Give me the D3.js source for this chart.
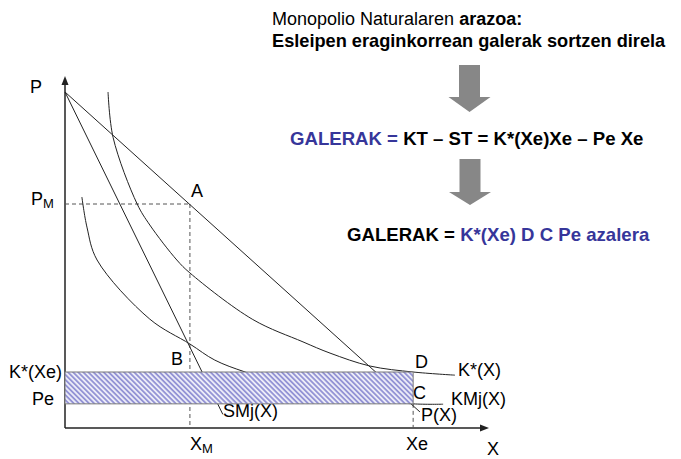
<!DOCTYPE html>
<html>
<head>
<meta charset="utf-8">
<style>
body { margin: 0; background: #fff; }
svg { font-family: "Liberation Sans", Arial, sans-serif; }
.curve { fill: none; stroke: #222; stroke-width: 1; }
.guide { fill: none; stroke: #555; stroke-width: 1; stroke-dasharray: 4,3; }
.axis { stroke: #222; stroke-width: 1.5; }
.lbl { font-size: 18px; fill: #000; }
</style>
</head>
<body>
<svg width="681" height="459"></svg>
<script src="https://d3js.org/d3.v7.min.js"></script>
<script>

// quantity X and price P, both on a 0..100 scale
var demand = [[0, 96], [84.1, 4.6]];            // P(X)
var marginalRevenue = [[0, 96], [37.4, 3.9]];   // SMj(X)
var averageCost = [[10.2, 96], [11.4, 83], [17.1, 64], [20.1, 58], [26.5, 48],
                   [29.6, 44.3], [44.5, 31], [56.4, 24.6], [62.8, 21.4],
                   [72.3, 17.7], [82.5, 16], [92.4, 15.1]];   // K*(X)
var marginalCost = [[4.0, 66], [5.2, 57.4], [7.6, 48], [20.1, 31.1], [29.6, 24],
                    [35.5, 19.4], [42.7, 16], [55.7, 11.4], [69.9, 8.6],
                    [82.5, 6.9], [89.6, 6.8]];               // KMj(X)

var XM = 29.6, Xe = 82.5;
var PM = 64, KXe = 16, Pe = 6.9;

var svg = d3.select("svg");

var x = d3.scaleLinear().domain([0, 100]).range([65, 487]);
var y = d3.scaleLinear().domain([0, 100]).range([428, 78]);

var defs = svg.append("defs");
var pat = defs.append("pattern")
    .attr("id", "hatch")
    .attr("patternUnits", "userSpaceOnUse")
    .attr("width", 3.6).attr("height", 3.6)
    .attr("patternTransform", "rotate(-45)");
pat.append("rect").attr("width", 3.6).attr("height", 3.6).attr("fill", "#ececf8");
pat.append("line").attr("x1", 0.9).attr("y1", 0).attr("x2", 0.9).attr("y2", 3.6)
    .attr("stroke", "#7272c8").attr("stroke-width", 1.3);

// titles
var t1 = svg.append("text").attr("x", 272).attr("y", 25).attr("font-size", 18);
t1.append("tspan").text("Monopolio Naturalaren ");
t1.append("tspan").attr("font-weight", "bold").text("arazoa:");
svg.append("text").attr("x", 272).attr("y", 47).attr("font-size", 18.2)
    .attr("font-weight", "bold").text("Esleipen eraginkorrean galerak sortzen direla");

var blue = "#36369a";
var t2 = svg.append("text").attr("x", 290).attr("y", 145)
    .attr("font-size", 18.6).attr("font-weight", "bold");
t2.append("tspan").attr("fill", blue).text("GALERAK = ");
t2.append("tspan").text("KT \u2013 ST = K*(Xe)Xe \u2013 Pe Xe");

var t3 = svg.append("text").attr("x", 347).attr("y", 241)
    .attr("font-size", 18.6).attr("font-weight", "bold");
t3.append("tspan").text("GALERAK = ");
t3.append("tspan").attr("fill", blue).text("K*(Xe) D C Pe azalera");

// block arrows
function blockArrow(cx, top, headY, tip) {
  var p = [[cx - 10.5, top], [cx + 10.5, top], [cx + 10.5, headY], [cx + 21, headY],
           [cx, tip], [cx - 21, headY], [cx - 10.5, headY]];
  svg.append("path").attr("d", "M" + p.join("L") + "Z").attr("fill", "#878787");
}
blockArrow(469.5, 65, 97, 112);
blockArrow(470, 159, 192, 205);

// axes
svg.append("line").attr("class", "axis")
    .attr("x1", x(0)).attr("y1", y(0)).attr("x2", x(0)).attr("y2", 84);
svg.append("path").attr("d", "M" + x(0) + ",76L" + (x(0) + 3.5) + ",85L" + (x(0) - 3.5) + ",85Z").attr("fill", "#222");
svg.append("line").attr("class", "axis")
    .attr("x1", x(0)).attr("y1", y(0)).attr("x2", 480).attr("y2", y(0));
svg.append("path").attr("d", "M489," + y(0) + "L480," + (y(0) - 3.5) + "L480," + (y(0) + 3.5) + "Z").attr("fill", "#222");

// guides
svg.append("line").attr("class", "guide")
    .attr("x1", x(0)).attr("y1", y(PM)).attr("x2", x(XM)).attr("y2", y(PM));
svg.append("line").attr("class", "guide")
    .attr("x1", x(XM)).attr("y1", y(PM)).attr("x2", x(XM)).attr("y2", y(0));
svg.append("line").attr("class", "guide")
    .attr("x1", x(Xe)).attr("y1", y(Pe)).attr("x2", x(Xe)).attr("y2", y(0));

var line = d3.line().x(function(d) { return x(d[0]); }).y(function(d) { return y(d[1]); });
var smooth = d3.line().x(function(d) { return x(d[0]); }).y(function(d) { return y(d[1]); })
    .curve(d3.curveCatmullRom.alpha(0.5));

svg.append("path").attr("class", "curve").attr("d", line(demand));
svg.append("path").attr("class", "curve").attr("d", line(marginalRevenue));
svg.append("path").attr("class", "curve").attr("d", smooth(averageCost));
svg.append("path").attr("class", "curve").attr("d", smooth(marginalCost));

// labels
function label(tx, ty, s, sub) {
  var t = svg.append("text").attr("class", "lbl").attr("x", tx).attr("y", ty).text(s);
  if (sub) t.append("tspan").attr("font-size", 13).attr("dy", 3).text(sub);
}
label(30, 93, "P");
label(31, 205, "P", "M");
label(191, 197, "A");
label(171, 365, "B");
label(9, 378, "K*(Xe)");
label(32, 405, "Pe");
label(190, 450, "X", "M");
label(406, 450, "Xe");
label(487, 455, "X");
label(415, 368, "D");
label(458, 376, "K*(X)");
label(413, 399, "C");
label(451, 405, "KMj(X)");
label(421, 421, "P(X)");
label(223, 417, "SMj(X)");

// loss area
svg.append("rect")
    .attr("x", x(0)).attr("y", y(KXe))
    .attr("width", x(Xe) - x(0)).attr("height", y(Pe) - y(KXe))
    .attr("fill", "url(#hatch)")
    .attr("stroke", "#7a7a7a").attr("stroke-width", 1);

</script>
</body>
</html>
